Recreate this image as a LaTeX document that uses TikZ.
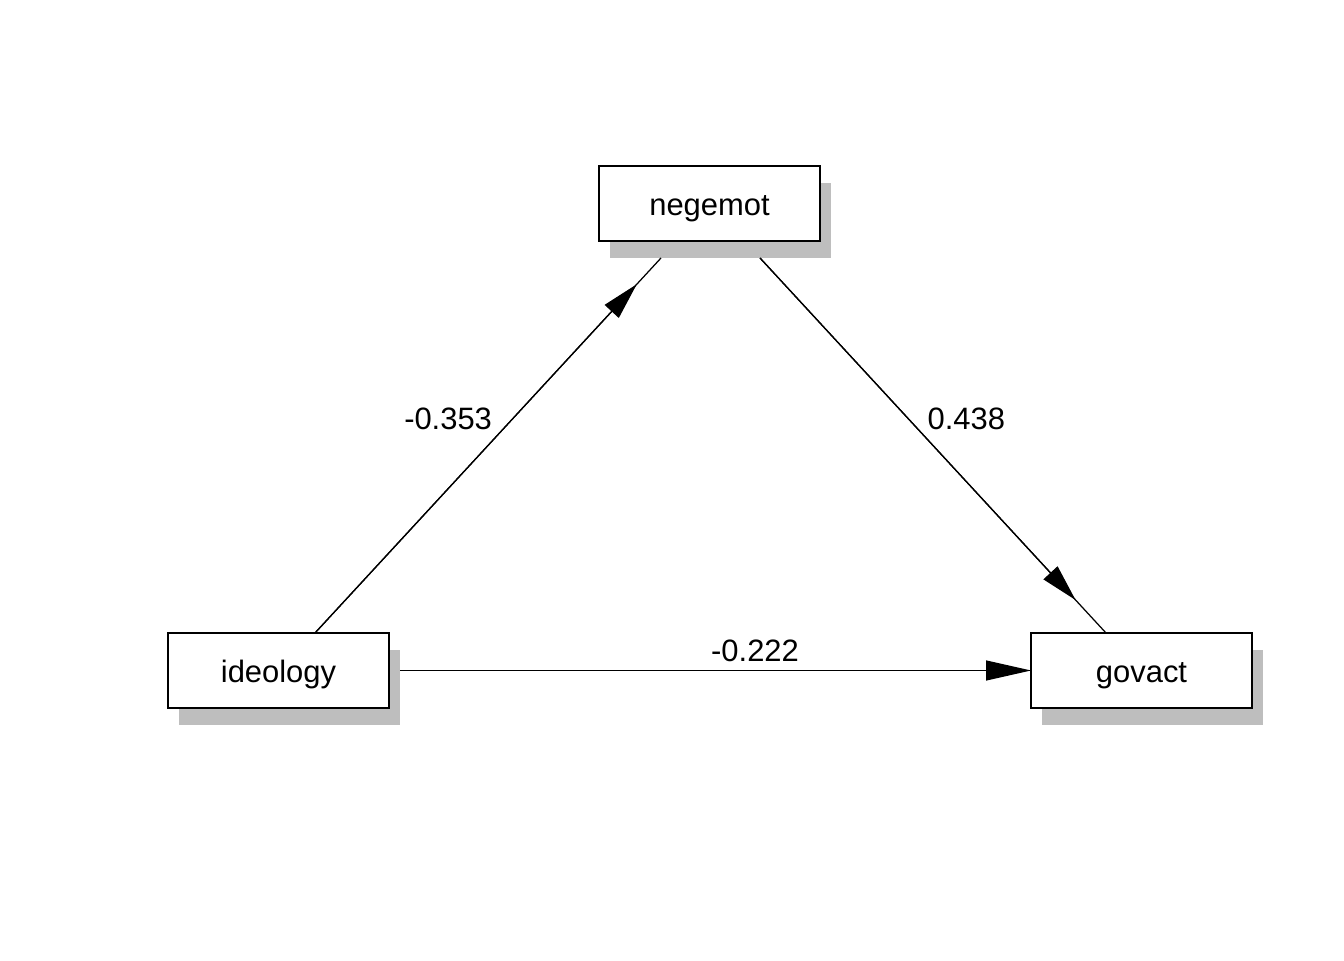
\documentclass[tikz,border=0pt]{standalone}
\usepackage{fontspec}
\setmainfont{Liberation Sans}
\usetikzlibrary{arrows.meta,calc,shadows}
\definecolor{shadowgray}{RGB}{190,190,190}

\begin{document}
\begin{tikzpicture}[
        font=\fontsize{17.6}{21}\selectfont,
        varbox/.style={draw, line width=0.035cm, fill=white, minimum width=4.42cm, minimum height=1.5cm,
            inner sep=0pt, outer sep=0pt, text height=0.5cm, text depth=0cm,
            drop shadow={shadow xshift=0.22cm, shadow yshift=-0.34cm, fill=shadowgray, opacity=1}},
        link/.style={line width=0.025cm},
        diagtip/.style={link, -{Triangle[length=0.74cm, width=0.38cm]}},
        flattip/.style={link, -{Triangle[length=0.9cm, width=0.4cm]}},
        coef/.style={inner sep=0pt}
    ]
                \useasboundingbox (0,0) rectangle (26.88,19.2);
                \node[varbox] (negemot) at (14.19,15.13) {negemot};
                \node[varbox] (ideology) at (5.57,5.79) {ideology};
                \node[varbox] (govact) at (22.83,5.79) {govact};
                % end points of the paths
                \coordinate (ideoltop) at ([xshift=0.73cm]ideology.north);
                \coordinate (negleft) at ([shift={(-0.97cm,-0.34cm)}]negemot.south);
                \coordinate (negright) at ([shift={(1.01cm,-0.34cm)}]negemot.south);
                \coordinate (govtop) at ([xshift=-0.71cm]govact.north);
                \coordinate (ideolright) at ([xshift=0.22cm]ideology.east);
                % a path
                \draw[link] (ideoltop) -- (negleft) node[coef, pos=0.571, anchor=east, xshift=-0.4cm] (apath) {-0.353};
                \draw[diagtip] (ideoltop) -- ($(ideoltop)!0.93!(negleft)$);
                % b path
                \draw[link] (negright) -- (govtop) node[coef, pos=0.429, anchor=west, xshift=0.37cm] (bpath) {0.438};
                \draw[diagtip] (negright) -- ($(negright)!0.912!(govtop)$);
                % c' path
                \draw[flattip] (ideolright) -- (govact.west) node[coef, pos=0.5626, anchor=south, yshift=0.16cm] (cpath) {-0.222};
            \end{tikzpicture}
\end{document}
